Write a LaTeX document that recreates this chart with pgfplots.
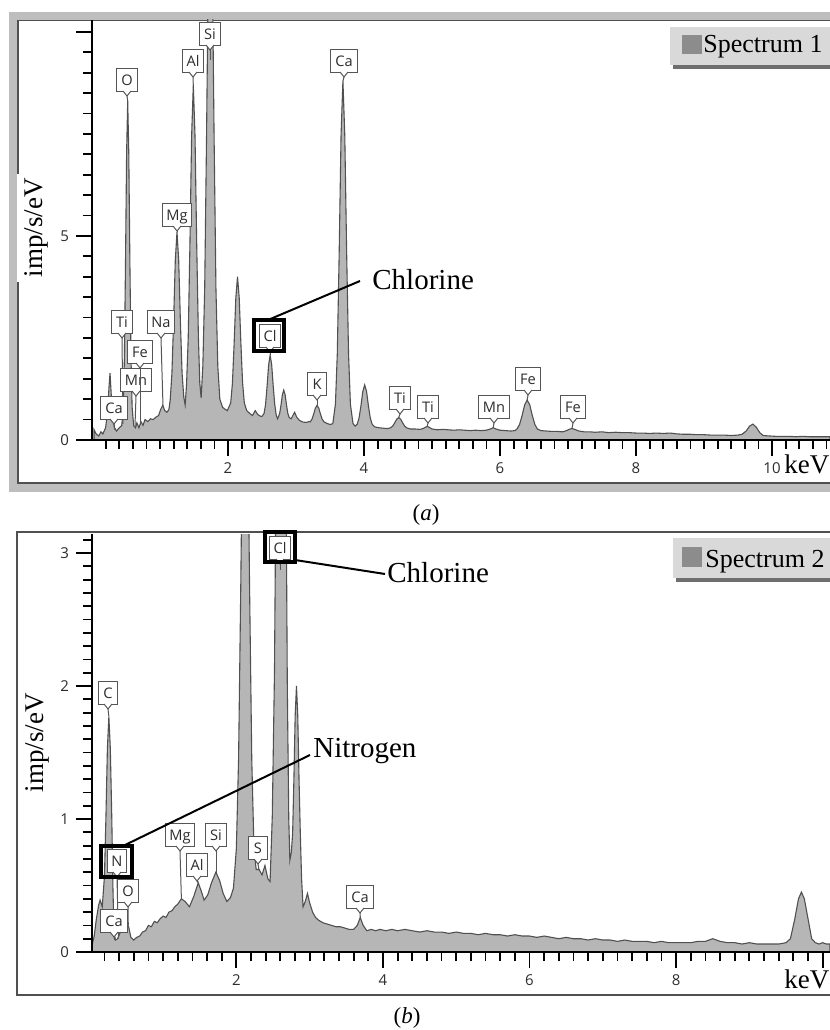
\documentclass[border=0pt]{standalone}
\usepackage{fontspec}
\setmainfont{Liberation Serif}
\newfontfamily\uisans{Open Sans}
\usepackage{pgfplots}
\pgfplotsset{compat=1.18}

\definecolor{specfill}{RGB}{182,182,182}
\definecolor{specline}{RGB}{80,80,80}
\definecolor{framegray}{RGB}{190,190,190}
\definecolor{frameline}{RGB}{80,80,80}
\definecolor{legfill}{RGB}{217,217,217}
\definecolor{legshadow}{RGB}{110,110,110}
\definecolor{legsq}{RGB}{140,140,140}
\definecolor{lblborder}{RGB}{85,85,85}
\definecolor{lbltext}{RGB}{45,45,45}
\definecolor{tickgray}{RGB}{45,45,45}

\tikzset{
  elbox/.style={draw=lblborder, line width=0.5pt, fill=white, text=lbltext,
    font=\uisans\fontsize{7.3}{8}\selectfont, inner xsep=2.2pt, inner ysep=0pt,
    minimum height=11.5pt, minimum width=9.5pt, text height=5.3pt, text depth=0pt},
  elline/.style={draw=lblborder, line width=0.5pt},
}
% #1 centre x (px), #2 box top (px), #3 text, #4,#5 target (px)
\newcommand{\elab}[5]{%
  \draw[elline] (#1,{#2+28}) -- (#4,#5);
  \node[elbox, anchor=north] at (#1,#2) {#3};
  \fill[white] ({#1-4},{#2+22.4}) -- (#1,{#2+28}) -- ({#1+4},{#2+22.4}) -- cycle;
  \draw[elline] ({#1-4},{#2+23}) -- (#1,{#2+28}) -- ({#1+4},{#2+23});
}

\pgfplotsset{
  eds/.style={
    scale only axis, anchor=south west,
    axis lines*=left, axis on top,
    every inner x axis line/.append style={-},
    every inner y axis line/.append style={-},
    every outer x axis line/.append style={-},
    every outer y axis line/.append style={-},
    axis line style={-, line width=1.2pt, black},
    tick align=outside,
    major tick length=8pt, minor tick length=4.5pt,
    every tick/.style={black, line width=0.9pt},
    minor tick style={black, line width=0.9pt},
    major tick style={black, line width=0.9pt},
    ticklabel style={font=\uisans\fontsize{7.5}{9}\selectfont, text=tickgray},
    /pgf/number format/assume math mode=true,
    xtick={2,4,6,8,10},
  },
  spec/.style={draw=specline, line width=0.55pt, fill=specfill},
}

\begin{document}
\begin{tikzpicture}
\path[use as bounding box] (0,0) rectangle (415pt,515pt);

% ---------- frames ----------
\begin{scope}[shift={(0pt,515pt)}, x=0.5pt, y=-0.5pt]
  \fill[framegray] (9,12) rectangle (840,492);
  \fill[white] (18,20.5) rectangle (840,483);
  \draw[frameline, line width=0.8pt] (840,20.5) -- (18,20.5) -- (18,483) -- (840,483);
  \draw[frameline, line width=1pt] (840,532) -- (17,532) -- (17,995) -- (840,995);
\end{scope}

% ---------- panel (a) ----------
\begin{axis}[eds,
  at={(46pt,295pt)}, width=368.9pt, height=210pt,
  xmin=0, xmax=10.85, ymin=0, ymax=10.29,
  ytick={0,5,10}, yticklabels={0,5,{}},
  minor xtick={0.2,0.4,...,10.8},
  minor ytick={0.5,1.0,...,10},
]
\addplot[spec] coordinates {
(0.03,0.25) (0.06,0.15) (0.1,0.1) (0.13,0.2) (0.16,0.15) (0.2,0.3) (0.23,0.7) (0.25,1.3) (0.265,1.64) (0.28,1.2) (0.3,0.6) (0.33,0.3) (0.36,0.22) (0.39,0.28) (0.42,0.33)
(0.437,0.35) (0.46,0.8) (0.476,1.98) (0.4925,4.3) (0.509,7.03) (0.525,8.3) (0.541,7.03) (0.5575,4.3) (0.574,1.98) (0.59,0.8) (0.613,0.35)
(0.64,0.3) (0.66,0.42) (0.69,0.3) (0.72,0.45) (0.75,0.36) (0.78,0.5) (0.82,0.45) (0.86,0.52) (0.9,0.5) (0.94,0.56) (0.98,0.6) (1.01,0.75) (1.04,0.85) (1.07,0.72) (1.1,0.68)
(1.13,0.74) (1.15,0.975) (1.175,1.62) (1.2,2.9) (1.225,4.4) (1.25,5.1) (1.275,4.4) (1.3,2.9) (1.325,1.62) (1.35,1.05) (1.37,0.86)
(1.39,1.34) (1.415,2.5) (1.44,4.78) (1.465,7.45) (1.49,8.7) (1.515,7.45) (1.54,4.78) (1.565,2.5) (1.585,1.4) (1.605,1.03)
(1.63,1.81) (1.6575,3.73) (1.685,7.5) (1.7125,11.93) (1.74,14) (1.7675,11.93) (1.795,7.5) (1.8225,3.73) (1.85,1.81) (1.88,1.0) (1.92,0.8) (1.96,0.75) (1.99,0.72)
(2.04,0.91) (2.065,1.39) (2.09,2.35) (2.115,3.48) (2.14,4.0) (2.165,3.48) (2.19,2.35) (2.215,1.39) (2.24,0.91) (2.275,0.72) (2.32,0.65) (2.36,0.6) (2.4,0.72) (2.44,0.62) (2.48,0.58)
(2.5,0.58) (2.53,0.65) (2.5525,0.87) (2.575,1.32) (2.5975,1.84) (2.62,2.08) (2.6425,1.84) (2.665,1.32) (2.6875,0.87) (2.71,0.6) (2.73,0.52)
(2.76,0.65) (2.78,0.86) (2.80,1.11) (2.82,1.22) (2.84,1.11) (2.86,0.86) (2.88,0.65) (2.9,0.55) (2.93,0.52) (2.96,0.62) (2.98,0.68) (3.01,0.56) (3.05,0.48) (3.1,0.44) (3.15,0.43) (3.19,0.45)
(3.21,0.447) (3.235,0.51) (3.26,0.635) (3.285,0.78) (3.31,0.85) (3.335,0.78) (3.36,0.635) (3.385,0.51) (3.41,0.447) (3.45,0.41) (3.5,0.38)
(3.5415,0.4) (3.58,0.88) (3.6075,2.12) (3.635,4.58) (3.6625,7.46) (3.69,8.8) (3.7175,7.46) (3.745,4.58) (3.7725,2.12) (3.8,0.88) (3.8385,0.4)
(3.87,0.34) (3.9,0.385) (3.9275,0.54) (3.955,0.835) (3.9825,1.19) (4.01,1.35) (4.0375,1.19) (4.065,0.835) (4.0925,0.54) (4.12,0.385) (4.16,0.32) (4.22,0.3) (4.28,0.29) (4.34,0.28)
(4.39,0.297) (4.42,0.337) (4.45,0.415) (4.48,0.507) (4.51,0.55) (4.54,0.507) (4.57,0.415) (4.6,0.337) (4.63,0.297) (4.68,0.27) (4.75,0.27) (4.82,0.26)
(4.87,0.28) (4.9,0.31) (4.93,0.33) (4.96,0.31) (5.0,0.27) (5.08,0.25) (5.16,0.26) (5.24,0.25) (5.32,0.24) (5.4,0.25) (5.48,0.24) (5.56,0.23) (5.64,0.24) (5.72,0.23) (5.8,0.24) (5.86,0.27) (5.9,0.3) (5.94,0.27) (6.0,0.24) (6.08,0.23) (6.16,0.22) (6.22,0.23)
(6.25,0.27) (6.2875,0.38) (6.325,0.6) (6.3625,0.86) (6.4,0.98) (6.4375,0.86) (6.475,0.6) (6.5125,0.38) (6.55,0.27) (6.6,0.23) (6.68,0.22) (6.76,0.21) (6.84,0.21) (6.92,0.2) (6.98,0.23) (7.03,0.27) (7.06,0.28) (7.1,0.26) (7.16,0.22) (7.24,0.2) (7.32,0.2) (7.4,0.19) (7.5,0.2) (7.6,0.18) (7.7,0.19) (7.8,0.18) (7.9,0.18) (8.0,0.17) (8.1,0.17) (8.2,0.16) (8.3,0.17) (8.4,0.16) (8.5,0.17) (8.6,0.15) (8.7,0.14) (8.8,0.14) (8.9,0.13) (9.0,0.13) (9.1,0.12) (9.2,0.12) (9.3,0.12) (9.4,0.11) (9.5,0.12)
(9.56,0.14) (9.62,0.22) (9.67,0.34) (9.72,0.39) (9.77,0.31) (9.82,0.18) (9.87,0.11) (9.95,0.1) (10.05,0.09) (10.15,0.09) (10.25,0.09) (10.35,0.08) (10.45,0.09) (10.55,0.08) (10.65,0.08) (10.75,0.08) (10.85,0.08)
} \closedcycle;
\end{axis}

% ---------- panel (b) ----------
\begin{axis}[eds,
  at={(46pt,39pt)}, width=369pt, height=209pt,
  xmin=0.03, xmax=10.1, ymin=0, ymax=3.143,
  ytick={0,1,2,3},
  xticklabels={2,4,6,8,{}},
  minor xtick={0.2,0.4,...,10.0},
  minor ytick={0.1,0.2,...,3.1},
]
\addplot[spec] coordinates {
(0.03,0.05) (0.06,0.12) (0.09,0.25) (0.12,0.35) (0.14,0.39) (0.17,0.34) (0.2,0.57) (0.22,1.01) (0.24,1.53) (0.26,1.77) (0.28,1.53) (0.3,1.01) (0.315,0.5) (0.33,0.15) (0.35,0.09) (0.38,0.1) (0.41,0.14) (0.44,0.18) (0.47,0.21) (0.5,0.22) (0.53,0.19) (0.56,0.11) (0.6,0.09) (0.64,0.11) (0.68,0.12) (0.72,0.15) (0.76,0.16) (0.8,0.2) (0.84,0.19) (0.88,0.23) (0.92,0.22) (0.96,0.25) (1.0,0.27) (1.04,0.26) (1.08,0.3) (1.12,0.31) (1.16,0.34) (1.2,0.36) (1.25,0.4) (1.3,0.38) (1.36,0.34) (1.42,0.42) (1.48,0.52) (1.52,0.46) (1.56,0.39) (1.61,0.43) (1.66,0.52) (1.72,0.6) (1.77,0.54) (1.82,0.44) (1.87,0.38) (1.92,0.41) (1.96,0.48)
(2.0,0.78) (2.03,1.45) (2.06,2.75) (2.09,4.28) (2.12,5.0) (2.15,4.28) (2.18,2.75) (2.21,1.45) (2.24,0.78) (2.27,0.62) (2.31,0.62) (2.35,0.58) (2.39,0.65) (2.43,0.55) (2.46,0.53)
(2.49,1.02) (2.52,2.11) (2.55,4.28) (2.58,6.82) (2.61,8.0) (2.64,6.82) (2.67,4.28) (2.695,2.0) (2.715,1.0) (2.73,0.69) (2.75,0.75) (2.7675,0.89) (2.785,1.3) (2.8025,1.78) (2.82,2.0) (2.8375,1.78) (2.855,1.3) (2.8725,0.89) (2.89,0.55) (2.91,0.34) (2.94,0.38) (2.97,0.44) (3.0,0.37) (3.04,0.3) (3.08,0.26) (3.12,0.24) (3.18,0.22) (3.24,0.21) (3.3,0.2) (3.36,0.19) (3.42,0.19) (3.48,0.18) (3.54,0.17) (3.6,0.17) (3.65,0.2) (3.69,0.26) (3.73,0.2) (3.78,0.16) (3.84,0.17) (3.9,0.16) (3.96,0.17) (4.04,0.16) (4.12,0.17)
(4.2,0.16) (4.3,0.17) (4.4,0.16) (4.5,0.15) (4.6,0.16) (4.7,0.15) (4.8,0.15) (4.9,0.14) (5.0,0.15) (5.1,0.14) (5.2,0.14) (5.3,0.13) (5.4,0.14) (5.5,0.13) (5.6,0.13) (5.7,0.12) (5.8,0.13) (5.9,0.12) (6.0,0.12) (6.1,0.11) (6.2,0.12) (6.3,0.11) (6.4,0.1) (6.5,0.11) (6.6,0.1) (6.7,0.1) (6.8,0.09) (6.9,0.1) (7.0,0.09) (7.1,0.09) (7.2,0.08) (7.3,0.09) (7.4,0.08) (7.5,0.08) (7.6,0.08) (7.7,0.07) (7.8,0.08) (7.9,0.07) (8.0,0.07) (8.1,0.07) (8.2,0.07) (8.3,0.08) (8.4,0.08) (8.5,0.1) (8.6,0.08) (8.7,0.07) (8.8,0.07) (8.9,0.06) (9.0,0.07) (9.1,0.06) (9.2,0.06) (9.3,0.06) (9.4,0.06) (9.5,0.07)
(9.56,0.1) (9.62,0.25) (9.67,0.4) (9.71,0.45) (9.75,0.4) (9.8,0.25) (9.85,0.1) (9.9,0.07) (9.95,0.06) (10.0,0.07) (10.05,0.06) (10.1,0.06)
} \closedcycle;
\end{axis}

% ---------- annotations (pixel coordinates) ----------
\begin{scope}[shift={(0pt,515pt)}, x=0.5pt, y=-0.5pt]
  % y labels
  \fill[white] (17,174) rectangle (50,282);
  \node[rotate=90, inner sep=0, font=\fontsize{13.5}{15}\selectfont] at (36,228) {imp/s/eV};
  \node[rotate=90, inner sep=0, font=\fontsize{13.5}{15}\selectfont] at (37,743) {imp/s/eV};
  % keV
  \node[anchor=base west, inner sep=0, font=\fontsize{13.5}{15}\selectfont] at (784,474) {keV};
  \node[anchor=base west, inner sep=0, font=\fontsize{13.5}{15}\selectfont] at (784,989) {keV};
  % panel captions
  \node[anchor=base, inner sep=0, font=\fontsize{11.5}{13}\selectfont] at (426,521) {(\textit{a})};
  \node[anchor=base, inner sep=0, font=\fontsize{11.5}{13}\selectfont] at (407,1024) {(\textit{b})};

  % legends
  \fill[legshadow] (673,42) rectangle (840,69);
  \fill[legfill] (670,27) rectangle (840,65);
  \fill[legsq] (682,35) rectangle (702,54);
  \node[anchor=base west, inner sep=0, font=\fontsize{13}{15}\selectfont] at (703,53) {Spectrum 1};
  \fill[legshadow] (676,554) rectangle (840,582);
  \fill[legfill] (673,538) rectangle (840,578);
  \fill[legsq] (682,547) rectangle (702,567);
  \node[anchor=base west, inner sep=0, font=\fontsize{13}{15}\selectfont] at (705,568) {Spectrum 2};

  % element labels, panel (a)
  \elab{127}{68}{O}{127.7}{101}
  \elab{193}{49}{Al}{193.3}{85}
  \elab{210}{22}{Si}{210}{60}
  \elab{344}{49}{Ca}{343}{81}
  \elab{177}{203}{Mg}{177}{232}
  \elab{122}{310}{Ti}{123}{424}
  \elab{161}{310}{Na}{163}{406}
  \elab{136}{368}{Mn}{135}{426}
  \elab{140}{340}{Fe}{140}{425}
  \elab{114}{396}{Ca}{115}{430}
  \elab{270}{324}{Cl}{270}{355}
  \elab{317}{372}{K}{317}{405}
  \elab{400}{386}{Ti}{398.7}{417.6}
  \elab{428}{395}{Ti}{427.2}{426.5}
  \elab{494}{395}{Mn}{493.2}{427.8}
  \elab{528}{367}{Fe}{527.2}{400}
  \elab{573}{395}{Fe}{572}{428.6}
  \draw[black, line width=2pt] (254,320) rectangle (284,351);
  \draw[black, line width=1pt] (268,320) -- (360,281);
  \node[anchor=base west, inner sep=0, font=\fontsize{14.5}{17}\selectfont] at (372,290) {Chlorine};

  % element labels, panel (b)
  \elab{108}{681}{C}{108.9}{716.6}
  \elab{117}{849}{N}{118.4}{938.7}
  \elab{128}{879}{O}{128.3}{925.4}
  \elab{114}{909}{Ca}{114.7}{940}
  \elab{180}{823}{Mg}{181.4}{899}
  \elab{197}{853}{Al}{198.3}{883}
  \elab{216}{823}{Si}{216}{873}
  \elab{258}{836}{S}{259}{870}
  \elab{360}{885}{Ca}{360.3}{917.4}
  \elab{280}{536}{Cl}{280}{570}
  \draw[black, line width=2pt] (265,532) rectangle (295,562);
  \draw[black, line width=2pt] (101,846) rectangle (132,877);
  \draw[black, line width=1pt] (295,560) -- (385,574);
  \draw[black, line width=1pt] (123,846) -- (310,755);
  \node[anchor=base west, inner sep=0, font=\fontsize{14.5}{17}\selectfont] at (387,583) {Chlorine};
  \node[anchor=base west, inner sep=0, font=\fontsize{14.5}{17}\selectfont] at (313,758) {Nitrogen};
\end{scope}
\end{tikzpicture}
\end{document}
